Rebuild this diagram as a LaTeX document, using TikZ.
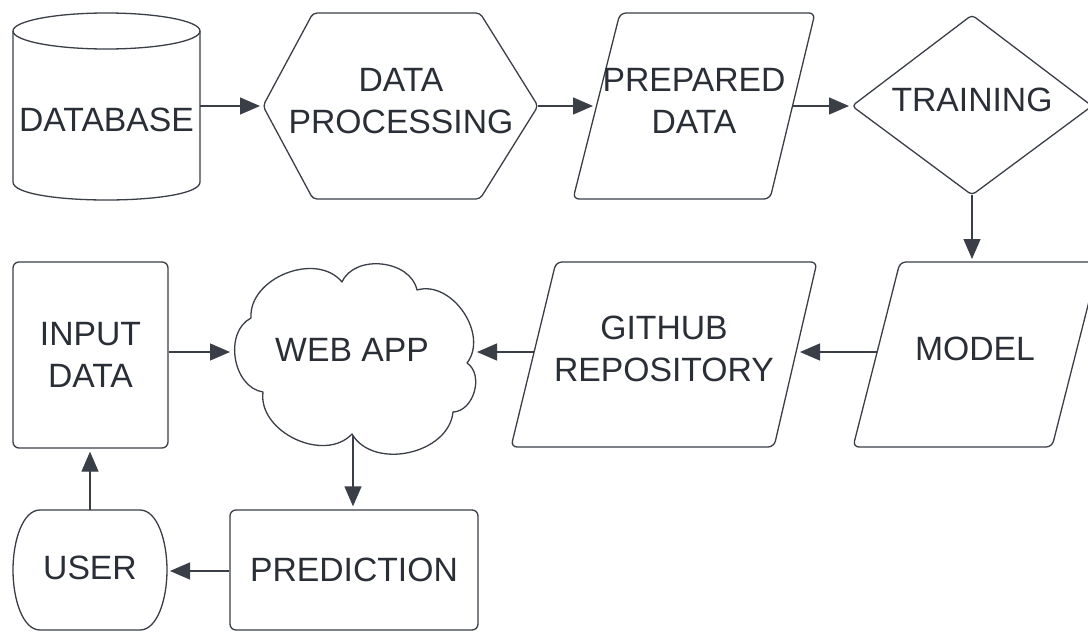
\documentclass[tikz,border=0pt]{standalone}
\usepackage{fontspec}
\setmainfont{Liberation Sans}
\usetikzlibrary{arrows.meta}
\definecolor{ln}{HTML}{3A3F47}
\definecolor{tx}{HTML}{2A2F37}
\begin{document}
\begin{tikzpicture}[x=1pt,y=-1pt,
  shp/.style={draw=ln,line width=1.3pt,line join=round},
  lbl/.style={text=tx,font=\fontsize{33.7}{42}\selectfont,align=center,inner sep=0pt},
  box/.style={shp,lbl,rounded corners=6pt},
  conn/.style={draw=ln,line width=1.3pt,-{Triangle[length=20pt,width=17pt]},shorten >=3pt},
  puff/.style={bend left=72,looseness=1.05}
]
\useasboundingbox[fill=white] (0,0) rectangle (1088,632);

% DATABASE cylinder
\draw[shp] (106.5,31) ellipse [x radius=93.5pt, y radius=18pt];
\draw[shp] (13,31) -- (13,182) .. controls (13,206) and (200,206) .. (200,182) -- (200,31);
\node[lbl] (db) at (106.5,120) {DATABASE};

% DATA PROCESSING hexagon
\draw[shp,rounded corners=4pt] (263,106) -- (313,13) -- (480,13) -- (538,106) -- (480,199) -- (313,199) -- cycle;
\node[lbl] (proc) at (401,101) {DATA\\PROCESSING};

% PREPARED DATA parallelogram
\draw[shp,rounded corners=6pt] (620,13) -- (815,13) -- (770,199) -- (573,199) -- cycle;
\node[lbl] (prep) at (694,101) {PREPARED\\DATA};

% TRAINING diamond
\draw[shp,rounded corners=4pt] (852,106) -- (972,15) -- (1092,106) -- (972,195) -- cycle;
\node[lbl] (train) at (972,100) {TRAINING};

% MODEL parallelogram
\draw[shp,rounded corners=6pt] (900,262) -- (1099,262) -- (1052,447) -- (853,447) -- cycle;
\node[lbl] (model) at (975,349) {MODEL};

% GITHUB REPOSITORY parallelogram
\draw[shp,rounded corners=6pt] (556,262) -- (817,262) -- (774,447) -- (511,447) -- cycle;
\node[lbl] (gh) at (664,349) {GITHUB\\REPOSITORY};

% WEB APP cloud
\draw[shp] (251,318) to[puff] (342,282) to[puff] (417,290) to[puff] (467,363)
  to[puff] (453,412) to[puff] (352,434) to[puff] (263,392) to[puff] (251,318);
\node[lbl] (web) at (352,350) {WEB APP};

% INPUT DATA box
\node[box,minimum width=155pt,minimum height=186pt] (input) at (90.5,355) {INPUT\\DATA};

% PREDICTION box
\node[box,minimum width=248pt,minimum height=120pt] (pred) at (354,570) {PREDICTION};

% USER terminal
\draw[shp] (40,510) -- (140,510) .. controls (157,510) and (167,540) .. (167,570)
  .. controls (167,600) and (157,630) .. (140,630) -- (40,630)
  .. controls (23,630) and (13,600) .. (13,570) .. controls (13,540) and (23,510) .. (40,510) -- cycle;
\node[lbl] (user) at (90,568) {USER};

% connection points
\coordinate (dbE) at (200,106);
\coordinate (procW) at (263,106);
\coordinate (procE) at (538,106);
\coordinate (prepW) at (596,106);
\coordinate (prepE) at (793,106);
\coordinate (trainW) at (852,106);
\coordinate (trainS) at (972,195);
\coordinate (modelN) at (972,262);
\coordinate (modelW) at (877,352);
\coordinate (ghE) at (797,352);
\coordinate (ghW) at (534,352);
\coordinate (webE) at (474,352);
\coordinate (webW) at (233,352);
\coordinate (webS) at (353,436);
\coordinate (userE) at (167,571);
\coordinate (userN) at (90,510);

% connectors
\draw[conn] (dbE) -- (procW);
\draw[conn] (procE) -- (prepW);
\draw[conn] (prepE) -- (trainW);
\draw[conn] (trainS) -- (modelN);
\draw[conn] (modelW) -- (ghE);
\draw[conn] (ghW) -- (webE);
\draw[conn] (input.east |- webW) -- (webW);
\draw[conn] (webS) -- (pred.north -| webS);
\draw[conn] (pred.west |- userE) -- (userE);
\draw[conn] (userN) -- (input.south -| userN);
\end{tikzpicture}
\end{document}
